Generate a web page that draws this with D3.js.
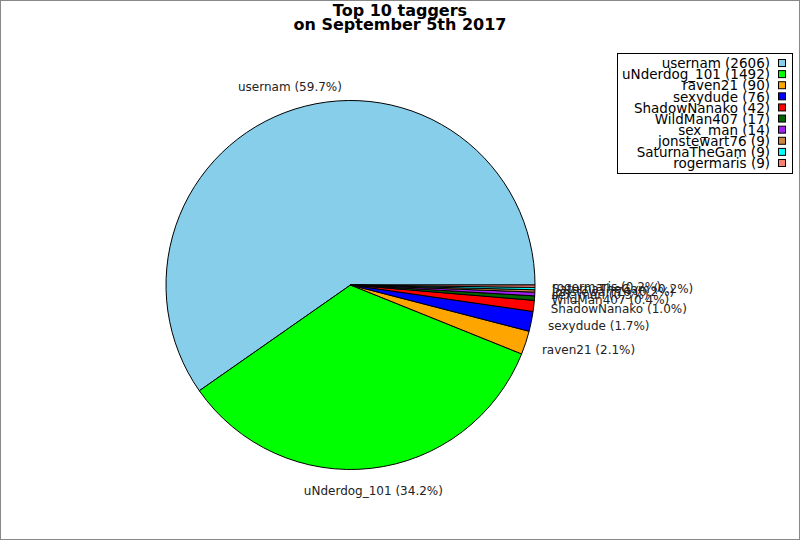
<!DOCTYPE html>
<html>
<head>
<meta charset="utf-8">
<script src="https://cdn.jsdelivr.net/npm/d3@7"></script>
<style>
  body { margin: 0; background: #fff; }
  svg { display: block; font-family: "DejaVu Sans", sans-serif; }
</style>
</head>
<body>
<div id="chart"></div>
<script>
// data
var names = ["usernam", "uNderdog_101", "raven21", "sexydude", "ShadowNanako",
             "WildMan407", "sex_man", "jonstewart76", "SaturnaTheGam", "rogermaris"];
var counts = [2606, 1492, 90, 76, 42, 17, 14, 9, 9, 9];
var colors = ["#87ceeb", "#00ff00", "#ffa500", "#0000ff", "#ff0000",
              "#006400", "#a020f0", "#cd853f", "#00ffff", "#fa8072"];
var titleLines = ["Top 10 taggers", "on September 5th 2017"];

var W = 800, H = 540;
var cx = 350.5, cy = 285, r = 184.5;

var svg = d3.select("#chart").append("svg")
    .attr("width", W)
    .attr("height", H);

// frame
svg.append("rect")
    .attr("x", 0.5).attr("y", 0.5)
    .attr("width", W - 1).attr("height", H - 1)
    .attr("fill", "#fff")
    .attr("stroke", "#888");

var data = names.map(function(n, i) { return {name: n, count: counts[i], color: colors[i]}; });
var total = d3.sum(counts);

// counter-clockwise starting at 3 o'clock
var pie = d3.pie()
    .sort(null)
    .value(function(d) { return d.count; })
    .startAngle(Math.PI / 2)
    .endAngle(Math.PI / 2 - 2 * Math.PI);

var arc = d3.arc().innerRadius(0).outerRadius(r);
var arcs = pie(data);

var g = svg.append("g").attr("transform", "translate(" + cx + "," + cy + ")");

g.selectAll("path.slice")
    .data(arcs)
    .enter().append("path")
    .attr("class", "slice")
    .attr("d", arc)
    .attr("fill", function(d) { return d.data.color; })
    .attr("stroke", "#000")
    .attr("stroke-width", 1)
    .attr("stroke-linejoin", "round");

// slice labels
var fmt = d3.format(".1f");
var lr = r + 17;
g.selectAll("text.lbl")
    .data(arcs)
    .enter().append("text")
    .attr("class", "lbl")
    .attr("x", function(d) {
        var m = (d.startAngle + d.endAngle) / 2;
        return lr * Math.sin(m);
    })
    .attr("y", function(d) {
        var m = (d.startAngle + d.endAngle) / 2;
        return -lr * Math.cos(m) - 6 * Math.cos(m);
    })
    .attr("dy", "0.35em")
    .attr("text-anchor", function(d) {
        var s = Math.sin((d.startAngle + d.endAngle) / 2);
        return s > 0.5 ? "start" : (s < -0.5 ? "end" : "middle");
    })
    .style("font-size", "12px")
    .style("fill", "#222")
    .text(function(d) { return d.data.name + " (" + fmt(d.data.count / total * 100) + "%)"; });

// title
svg.selectAll("text.title")
    .data(titleLines)
    .enter().append("text")
    .attr("class", "title")
    .attr("x", 400)
    .attr("y", function(d, i) { return 16 + i * 14; })
    .attr("text-anchor", "middle")
    .style("font-size", "16px")
    .style("font-weight", "bold")
    .text(function(d) { return d; });

// legend
var legend = svg.append("g");
legend.append("rect")
    .attr("x", 617.5).attr("y", 53.5)
    .attr("width", 175).attr("height", 120)
    .attr("fill", "#fff")
    .attr("stroke", "#000");

var rowY = d3.scaleLinear().domain([0, names.length - 1]).range([63.5, 163.5]);

var rows = legend.selectAll("g.row")
    .data(data)
    .enter().append("g")
    .attr("class", "row")
    .attr("transform", function(d, i) { return "translate(0," + rowY(i) + ")"; });

rows.append("text")
    .attr("x", 770)
    .attr("dy", "0.35em")
    .attr("text-anchor", "end")
    .style("font-size", "13.5px")
    .text(function(d) { return d.name + " (" + d.count + ")"; });

rows.append("rect")
    .attr("x", 778.5).attr("y", -4)
    .attr("width", 7).attr("height", 7)
    .attr("fill", function(d) { return d.color; })
    .attr("stroke", "#000");
</script>
</body>
</html>
